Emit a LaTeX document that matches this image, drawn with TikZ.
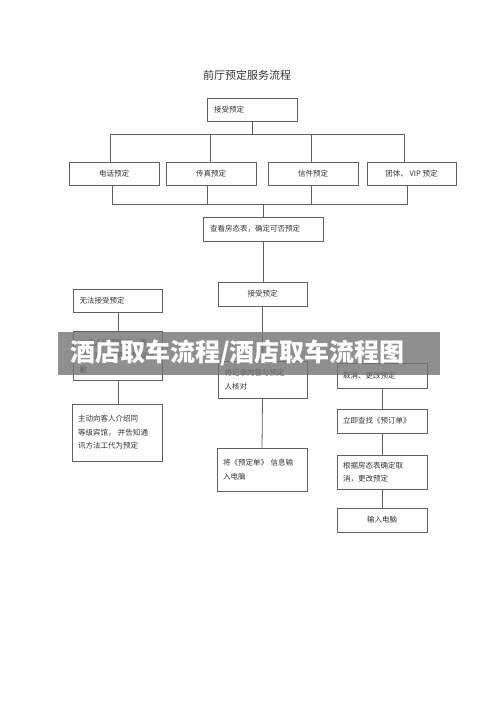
\documentclass[tikz,border=0pt]{standalone}
\usepackage{fontspec}
\setmainfont{Noto Sans CJK SC}
\usetikzlibrary{calc}
\definecolor{boxline}{HTML}{606060}
\definecolor{txt}{HTML}{333333}
\begin{document}
\begin{tikzpicture}[x=1pt,y=-1pt,
  box/.style={draw=boxline,line width=0.8pt,rectangle,inner sep=0pt,text=txt,
    font=\fontsize{7.5}{13.5}\selectfont},
  cbox/.style={box,align=center},
  conn/.style={draw=boxline,line width=0.8pt}]
\useasboundingbox (0,0) rectangle (500,708);
\fill[white] (0,0) rectangle (500,708);

\node[text=txt,font=\fontsize{11}{13}\selectfont] (title) at (247,75) {前厅预定服务流程};

% row 1
\node[box,minimum width=90,minimum height=23,align=left,text width=76] (top) at (252,109.5) {接受预定};
% row 2
\node[cbox,minimum width=90,minimum height=23] (phone) at (114,173.5) {电话预定};
\node[cbox,minimum width=90,minimum height=23] (fax) at (211,173.5) {传真预定};
\node[cbox,minimum width=90,minimum height=23] (letter) at (313,173.5) {信件预定};
\node[cbox,minimum width=89,minimum height=23] (group) at (411.5,173.5) {团体、 VIP 预定};
% check
\node[box,minimum width=120,minimum height=24,align=left,text width=106] (check) at (263,229) {查看房态表，确定可否预定};
% middle column
\node[cbox,minimum width=89,minimum height=24] (accept) at (262.5,294) {接受预定};
\node[box,minimum width=89,minimum height=37,align=left,text width=76] (verify) at (262.5,379.5) {将记录内容与预定\\人核对};
\node[box,minimum width=90,minimum height=43,align=left,text width=78] (input) at (262,469.5) {将《预定单》 信息输\\入电脑};
% left column
\node[box,minimum width=89,minimum height=23,align=left,text width=76] (cannot) at (117.5,300.5) {无法接受预定};
\node[box,minimum width=89,minimum height=49,align=left,text width=76] (sorry) at (117.5,356) {向客人说明情况，表\\示歉意，诚恳地致以道\\歉};
\node[box,minimum width=90,minimum height=57,align=left,text width=78] (intro) at (117,432.5) {主动向客人介绍同\\等级宾馆， 并告知通\\讯方法工代为预定};
% right column
\node[box,minimum width=90,minimum height=25,align=left,text width=78] (cancel) at (382,375.5) {取消、更改预定};
\node[box,minimum width=90,minimum height=24,align=left,text width=78] (find) at (382,421) {立即查找《预订单》};
\node[box,minimum width=90,minimum height=34,align=left,text width=78] (decide) at (382,472) {根据房态表确定取\\消，更改预定};
\node[cbox,minimum width=90,minimum height=24] (input2) at (382,520) {输入电脑};

% top bus
\coordinate (busT) at (252,134);
\coordinate (t1) at (110,134);
\coordinate (t2) at (210,134);
\coordinate (t3) at (311,134);
\coordinate (t4) at (404,134);
\draw[conn] (top.south) -- (busT);
\draw[conn] (t1) -- (t4);
\draw[conn] (t1) -- (t1 |- phone.north);
\draw[conn] (t2) -- (t2 |- fax.north);
\draw[conn] (t3) -- (t3 |- letter.north);
\draw[conn] (t4) -- (t4 |- group.north);

% bottom bus
\coordinate (b1) at (112,204);
\coordinate (b2) at (207,204);
\coordinate (b3) at (311,204);
\coordinate (b4) at (407,204);
\coordinate (bc) at (263,204);
\draw[conn] (b1 |- phone.south) -- (b1) -- (b4) -- (b4 |- group.south);
\draw[conn] (b2 |- fax.south) -- (b2);
\draw[conn] (b3 |- letter.south) -- (b3);
\draw[conn] (bc) -- (check.north);

% middle chain
\draw[conn] (check.south) -- (check.south |- accept.north);
\draw[conn] (accept.south) -- (verify.north);
\draw[conn] (verify.south) -- (input.north);

% left chain
\coordinate (lx) at (118,0);
\draw[conn] (lx |- cannot.south) -- (lx |- sorry.north);
\draw[conn] (lx |- sorry.south) -- (lx |- intro.north);

% right chain
\draw[conn] (cancel.south) -- (find.north);
\draw[conn] (find.south) -- (decide.north);
\draw[conn] (decide.south) -- (input2.north);

% watermark band
\fill[black!55,fill opacity=0.8] (58,332) rectangle (440,375);
\node[anchor=west,inner sep=0pt,text=white,font=\fontsize{25}{27}\selectfont\bfseries] (wm) at (70,353) {酒店取车流程/酒店取车流程图};
\end{tikzpicture}
\end{document}
